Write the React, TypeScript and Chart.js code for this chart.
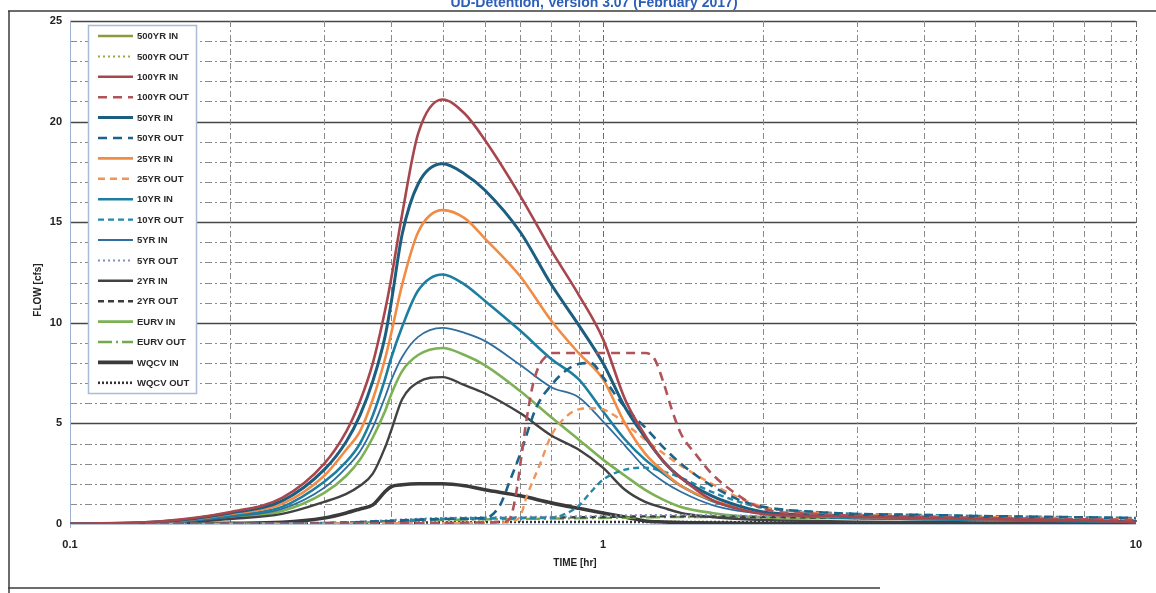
import React, { useEffect, useRef } from "react";
import { Chart, registerables } from "chart.js";

Chart.register(...registerables);

const FONT = '"Liberation Sans Narrow", "Liberation Sans", "DejaVu Sans Condensed", sans-serif';
const TITLE = "UD-Detention, Version 3.07 (February 2017)";
const X_TITLE = "TIME [hr]";
const Y_TITLE = "FLOW [cfs]";

const X_TICKS = [0.1, 1, 10];
const Y_TICKS = [0, 5, 10, 15, 20, 25];

// time grid (hr) shared by inflow hydrographs
const TIME_IN = [0.1, 0.15, 0.2, 0.25, 0.3, 0.33, 0.35, 0.37, 0.39, 0.4, 0.42, 0.45, 0.5, 0.55, 0.6, 0.7, 0.8, 0.9, 1.0, 1.1, 1.2, 1.3, 1.4, 1.6, 1.8, 2.0, 2.5, 3, 4, 5, 7, 10];

const IN_500YR: number[] = [];
const IN_100YR = [0, 0.15, 0.6, 1.3, 3.0, 4.6, 6.1, 8.0, 10.6, 12.1, 15.4, 19.4, 21.1, 20.4, 19.1, 16.3, 13.6, 11.4, 9.2, 6.2, 4.4, 3.1, 2.3, 1.2, 0.75, 0.5, 0.4, 0.35, 0.3, 0.25, 0.2, 0.1];
const IN_50YR = [0, 0.12, 0.55, 1.15, 2.7, 4.1, 5.4, 7.1, 9.3, 10.9, 14.4, 16.9, 17.9, 17.4, 16.6, 14.5, 11.9, 9.9, 8.0, 5.8, 4.3, 3.1, 2.3, 1.4, 0.9, 0.6, 0.45, 0.4, 0.32, 0.28, 0.2, 0.12];
const IN_25YR = [0, 0.1, 0.5, 1.0, 2.4, 3.7, 4.6, 6.2, 8.2, 9.4, 11.9, 14.5, 15.6, 15.2, 14.2, 12.3, 10.1, 8.5, 7.2, 5.0, 3.5, 2.6, 1.9, 1.2, 0.8, 0.55, 0.4, 0.35, 0.3, 0.25, 0.2, 0.1];
const IN_10YR = [0, 0.08, 0.42, 0.85, 2.1, 3.1, 4.0, 5.4, 7.2, 8.2, 9.8, 11.6, 12.4, 11.9, 11.1, 9.6, 8.2, 7.2, 5.6, 4.2, 3.2, 2.5, 1.9, 1.15, 0.75, 0.55, 0.38, 0.3, 0.25, 0.2, 0.15, 0.1];
const IN_5YR = [0, 0.06, 0.36, 0.75, 1.8, 2.8, 3.6, 4.8, 6.3, 7.1, 8.3, 9.3, 9.75, 9.5, 9.1, 7.9, 6.8, 6.3, 5.1, 3.9, 2.8, 2.1, 1.6, 0.95, 0.65, 0.5, 0.35, 0.3, 0.22, 0.2, 0.15, 0.1];
const IN_2YR = [0, 0.04, 0.25, 0.5, 1.1, 1.5, 1.9, 2.5, 3.8, 4.6, 6.2, 7.05, 7.3, 6.9, 6.5, 5.5, 4.4, 3.7, 2.8, 1.7, 1.1, 0.8, 0.55, 0.35, 0.25, 0.2, 0.15, 0.12, 0.1, 0.08, 0.05, 0.03];
const IN_EURV = [0, 0.05, 0.32, 0.65, 1.55, 2.4, 3.2, 4.3, 5.6, 6.4, 7.6, 8.4, 8.75, 8.4, 7.9, 6.6, 5.3, 4.2, 3.2, 2.4, 1.7, 1.2, 0.85, 0.55, 0.4, 0.35, 0.3, 0.28, 0.25, 0.22, 0.18, 0.12];
const IN_WQCV = [0, 0.01, 0.03, 0.08, 0.3, 0.55, 0.75, 0.95, 1.6, 1.85, 1.95, 2.0, 2.0, 1.9, 1.7, 1.4, 1.05, 0.78, 0.55, 0.35, 0.15, 0.1, 0.07, 0.05, 0.03, 0.02, 0.01, 0, 0, 0, 0, 0];

// outflow hydrographs, each on its own time grid
const TIME_OUT_100 = [0.1, 0.3, 0.5, 0.6, 0.65, 0.67, 0.69, 0.7, 0.72, 0.74, 0.76, 0.78, 0.8, 0.9, 1.0, 1.1, 1.2, 1.25, 1.3, 1.35, 1.4, 1.5, 1.6, 1.8, 2.0, 2.5, 3, 4, 5, 7, 10];
const OUT_100YR = [0, 0.02, 0.05, 0.08, 0.1, 0.3, 1.8, 3.0, 5.3, 7.0, 7.9, 8.3, 8.5, 8.5, 8.5, 8.5, 8.5, 8.2, 7.0, 5.6, 4.5, 3.4, 2.5, 1.4, 0.75, 0.5, 0.4, 0.35, 0.3, 0.25, 0.2];

const TIME_OUT_50 = [0.1, 0.3, 0.4, 0.5, 0.6, 0.64, 0.67, 0.7, 0.75, 0.8, 0.85, 0.9, 0.95, 1.0, 1.05, 1.1, 1.2, 1.3, 1.4, 1.6, 1.8, 2.0, 2.5, 3, 4, 5, 7, 10];
const OUT_50YR = [0, 0.05, 0.15, 0.25, 0.3, 0.9, 2.2, 3.5, 5.8, 6.9, 7.6, 7.95, 8.0, 7.3, 6.5, 5.8, 4.8, 3.8, 3.0, 1.9, 1.2, 0.85, 0.6, 0.5, 0.45, 0.4, 0.35, 0.3];

const TIME_OUT_25 = [0.1, 0.3, 0.5, 0.65, 0.68, 0.7, 0.72, 0.76, 0.8, 0.85, 0.9, 0.95, 1.0, 1.05, 1.1, 1.2, 1.3, 1.4, 1.6, 1.8, 2.0, 2.5, 3, 4, 5, 7, 10];
const OUT_25YR = [0, 0.02, 0.05, 0.08, 0.15, 0.4, 1.4, 2.9, 4.4, 5.3, 5.7, 5.75, 5.7, 5.4, 5.0, 4.2, 3.5, 2.9, 2.0, 1.3, 0.85, 0.55, 0.45, 0.4, 0.35, 0.3, 0.22];

const TIME_OUT_10 = [0.1, 0.3, 0.4, 0.5, 0.6, 0.7, 0.8, 0.85, 0.9, 0.95, 1.0, 1.1, 1.2, 1.3, 1.4, 1.6, 1.8, 2.0, 2.5, 3, 4, 5, 7, 10];
const OUT_10YR = [0, 0.05, 0.15, 0.25, 0.3, 0.3, 0.3, 0.5, 0.9, 1.6, 2.2, 2.7, 2.8, 2.6, 2.3, 1.6, 1.1, 0.8, 0.6, 0.5, 0.45, 0.4, 0.35, 0.3];

const TIME_OUT_LOW = [0.1, 0.3, 0.4, 0.5, 0.7, 1.0, 1.2, 1.5, 2, 3, 5, 10];
const OUT_500YR: number[] = [];
const OUT_5YR = [0, 0.05, 0.2, 0.3, 0.35, 0.4, 0.45, 0.45, 0.4, 0.35, 0.3, 0.2];
const OUT_2YR = [0, 0.04, 0.15, 0.25, 0.3, 0.35, 0.38, 0.38, 0.35, 0.3, 0.25, 0.15];
const OUT_EURV = [0, 0.03, 0.12, 0.2, 0.25, 0.3, 0.33, 0.35, 0.32, 0.3, 0.25, 0.15];
const OUT_WQCV = [0, 0.02, 0.05, 0.08, 0.1, 0.1, 0.1, 0.1, 0.08, 0.06, 0.05, 0.03];

type Series = { label: string; times: number[]; values: number[]; color: string; width: number; dash: number[] };

const SERIES: Series[] = [
  { label: "500YR IN", times: TIME_IN, values: IN_500YR, color: "#8C9A3C", width: 2.5, dash: [] },
  { label: "500YR OUT", times: TIME_OUT_LOW, values: OUT_500YR, color: "#9AA84A", width: 2, dash: [2, 3] },
  { label: "100YR IN", times: TIME_IN, values: IN_100YR, color: "#A8464E", width: 2.6, dash: [] },
  { label: "100YR OUT", times: TIME_OUT_100, values: OUT_100YR, color: "#B0545A", width: 2.6, dash: [9, 6] },
  { label: "50YR IN", times: TIME_IN, values: IN_50YR, color: "#1B5E80", width: 3, dash: [] },
  { label: "50YR OUT", times: TIME_OUT_50, values: OUT_50YR, color: "#1B6388", width: 2.6, dash: [9, 6] },
  { label: "25YR IN", times: TIME_IN, values: IN_25YR, color: "#F08C45", width: 2.6, dash: [] },
  { label: "25YR OUT", times: TIME_OUT_25, values: OUT_25YR, color: "#F19457", width: 2.4, dash: [7, 5] },
  { label: "10YR IN", times: TIME_IN, values: IN_10YR, color: "#1C7EA0", width: 2.6, dash: [] },
  { label: "10YR OUT", times: TIME_OUT_10, values: OUT_10YR, color: "#2388AA", width: 2.4, dash: [6, 4] },
  { label: "5YR IN", times: TIME_IN, values: IN_5YR, color: "#2F6E9F", width: 1.8, dash: [] },
  { label: "5YR OUT", times: TIME_OUT_LOW, values: OUT_5YR, color: "#7F8FC2", width: 2, dash: [2, 3] },
  { label: "2YR IN", times: TIME_IN, values: IN_2YR, color: "#424242", width: 2.4, dash: [] },
  { label: "2YR OUT", times: TIME_OUT_LOW, values: OUT_2YR, color: "#3C3C3C", width: 2.4, dash: [6, 4] },
  { label: "EURV IN", times: TIME_IN, values: IN_EURV, color: "#7DB155", width: 2.6, dash: [] },
  { label: "EURV OUT", times: TIME_OUT_LOW, values: OUT_EURV, color: "#74A84C", width: 2.4, dash: [14, 4, 2, 4] },
  { label: "WQCV IN", times: TIME_IN, values: IN_WQCV, color: "#3A3A3A", width: 3.6, dash: [] },
  { label: "WQCV OUT", times: TIME_OUT_LOW, values: OUT_WQCV, color: "#333333", width: 2.6, dash: [2, 2] },
];

const decor = {
  id: "decor",
  beforeDatasetsDraw(chart: any) {
    const { ctx, chartArea } = chart;
    const { left, right, top, bottom } = chartArea;
    const xs = chart.scales.x;
    const ys = chart.scales.y;
    ctx.save();
    // horizontal grid
    for (let v = 0; v <= 25; v++) {
      const py = Math.round(ys.getPixelForValue(v)) + 0.5;
      const major = v % 5 === 0;
      ctx.beginPath();
      if (v === 0) {
        ctx.setLineDash([]);
        ctx.strokeStyle = "#b8c4d6";
        ctx.lineWidth = 1;
      } else if (major) {
        ctx.setLineDash([]);
        ctx.strokeStyle = "#474747";
        ctx.lineWidth = 1.4;
      } else {
        ctx.setLineDash([7, 3, 2, 3]);
        ctx.strokeStyle = "#8a8a8a";
        ctx.lineWidth = 1;
      }
      ctx.moveTo(left, py);
      ctx.lineTo(right, py);
      ctx.stroke();
    }
    // vertical grid (log minor lines)
    for (const d of [0.1, 1]) {
      for (let k = 2; k <= 10; k++) {
        const t = d * k;
        const px = Math.round(xs.getPixelForValue(t)) + 0.5;
        ctx.beginPath();
        ctx.setLineDash([6, 3, 2, 3]);
        ctx.strokeStyle = k === 10 ? "#6a6a6a" : "#8a8a8a";
        ctx.lineWidth = 1;
        ctx.moveTo(px, top);
        ctx.lineTo(px, bottom);
        ctx.stroke();
      }
    }
    // left axis line
    ctx.setLineDash([]);
    ctx.strokeStyle = "#9fb1cc";
    ctx.lineWidth = 1;
    ctx.beginPath();
    ctx.moveTo(left + 0.5, top);
    ctx.lineTo(left + 0.5, bottom + 4);
    ctx.stroke();
    ctx.restore();
  },
  afterDraw(chart: any) {
    ctx_draw(chart);
  },
};

function ctx_draw(chart: any) {
  const { ctx } = chart;
  ctx.save();
  // page frame
  ctx.strokeStyle = "#3d3d3d";
  ctx.lineWidth = 1.5;
  ctx.setLineDash([]);
  ctx.beginPath();
  ctx.moveTo(8, 11);
  ctx.lineTo(1156, 11);
  ctx.moveTo(9, 11);
  ctx.lineTo(9, 593);
  ctx.moveTo(8, 588);
  ctx.lineTo(880, 588);
  ctx.stroke();

  // chart title (cut at top like the reference)
  ctx.fillStyle = "#2D5FB8";
  ctx.font = `bold 14px ${FONT}`;
  ctx.textAlign = "center";
  ctx.textBaseline = "middle";
  ctx.fillText(TITLE, 594, 3);

  // axis titles
  ctx.fillStyle = "#222";
  ctx.font = `bold 10px ${FONT}`;
  ctx.fillText(X_TITLE, 575, 563);
  ctx.save();
  ctx.translate(38, 290);
  ctx.rotate(-Math.PI / 2);
  ctx.fillText(Y_TITLE, 0, 0);
  ctx.restore();

  // legend
  const bx = 88, by = 25, bw = 108, bh = 368;
  ctx.fillStyle = "#ffffff";
  ctx.fillRect(bx, by, bw, bh);
  ctx.strokeStyle = "#a9bbd6";
  ctx.lineWidth = 1.5;
  ctx.strokeRect(bx + 0.5, by + 0.5, bw, bh);
  ctx.font = `bold 9.5px ${FONT}`;
  ctx.textAlign = "left";
  ctx.textBaseline = "middle";
  chart.data.datasets.forEach((ds: any, i: number) => {
    const yy = 36 + i * 20.4;
    ctx.beginPath();
    ctx.setLineDash(ds.borderDash || []);
    ctx.strokeStyle = ds.borderColor;
    ctx.lineWidth = ds.borderWidth;
    ctx.moveTo(98, yy);
    ctx.lineTo(133, yy);
    ctx.stroke();
    ctx.setLineDash([]);
    ctx.fillStyle = "#2a2a2a";
    ctx.fillText(ds.label, 137, yy + 0.5);
  });
  ctx.restore();
}

export default function App() {
  const ref = useRef<HTMLCanvasElement | null>(null);
  useEffect(() => {
    if (!ref.current) return;
    const datasets = SERIES.map((s) => ({
      label: s.label,
      data: s.values.map((v, i) => ({ x: s.times[i], y: v })),
      borderColor: s.color,
      backgroundColor: s.color,
      borderWidth: s.width,
      borderDash: s.dash,
      pointRadius: 0,
      fill: false,
      cubicInterpolationMode: "monotone" as const,
    }));
    const chart = new Chart(ref.current, {
      type: "line",
      data: { datasets },
      options: {
        animation: false,
        responsive: false,
        maintainAspectRatio: false,
        devicePixelRatio: 1,
        layout: { padding: { top: 21, right: 16, bottom: 0, left: 0 } },
        plugins: { legend: { display: false }, tooltip: { enabled: false }, title: { display: false } },
        scales: {
          x: {
            type: "logarithmic",
            min: 0.1,
            max: 10,
            grid: { display: false, drawTicks: false },
            border: { display: false },
            afterBuildTicks: (s: any) => {
              s.ticks = X_TICKS.map((v) => ({ value: v }));
            },
            afterFit: (s: any) => {
              s.height = 69;
            },
            ticks: {
              autoSkip: false,
              maxRotation: 0,
              minRotation: 0,
              padding: 14,
              color: "#222",
              font: { family: FONT, size: 11, weight: "bold" },
              callback: (v: any) => String(v),
            },
          },
          y: {
            type: "linear",
            min: 0,
            max: 25,
            grid: { display: false, drawTicks: false },
            border: { display: false },
            afterBuildTicks: (s: any) => {
              s.ticks = Y_TICKS.map((v) => ({ value: v }));
            },
            afterFit: (s: any) => {
              s.width = 70;
            },
            ticks: {
              autoSkip: false,
              padding: 8,
              color: "#222",
              font: { family: FONT, size: 11, weight: "bold" },
              callback: (v: any) => String(v),
            },
          },
        },
      },
      plugins: [decor],
    } as any);
    return () => chart.destroy();
  }, []);
  return (
    <div style={{ position: "fixed", left: 0, top: 0, width: 1156, height: 593, background: "#fff" }}>
      <canvas ref={ref} width={1156} height={593} style={{ display: "block", width: 1156, height: 593 }} />
    </div>
  );
}
